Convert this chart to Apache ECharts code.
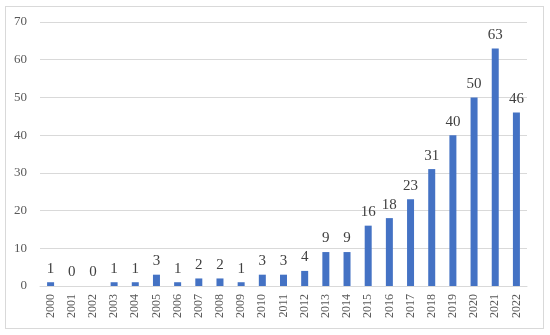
<!DOCTYPE html>
<html>
<head>
<meta charset="utf-8">
<script src="https://cdn.jsdelivr.net/npm/echarts@6/dist/echarts.min.js"></script>
<style>
  html, body { margin: 0; padding: 0; background: #fff; }
  #frame { position: absolute; left: 5px; top: 6px; width: 537px; height: 321px; border: 1px solid #d9d9d9; }
  #chart { position: absolute; left: 0; top: 0; width: 550px; height: 335px; }
</style>
</head>
<body>
<div id="frame"></div>
<div id="chart"></div>
<script>
  var years = ['2000', '2001', '2002', '2003', '2004', '2005', '2006', '2007', '2008', '2009', '2010', '2011',
               '2012', '2013', '2014', '2015', '2016', '2017', '2018', '2019', '2020', '2021', '2022'];
  var counts = [1, 0, 0, 1, 1, 3, 1, 2, 2, 1, 3, 3, 4, 9, 9, 16, 18, 23, 31, 40, 50, 63, 46];

  var serif = '"Liberation Serif", "DejaVu Serif", serif';
  var chart = echarts.init(document.getElementById('chart'));

  var option = {
    animation: false,
    grid: { left: 40, right: 23, top: 22, bottom: 49 },
    xAxis: {
      type: 'category',
      data: years,
      axisTick: { show: false },
      axisLine: { lineStyle: { color: '#d9d9d9' } },
      axisLabel: {
        rotate: 90,
        interval: 0,
        margin: 8,
        color: '#595959',
        fontFamily: serif,
        fontSize: 12
      }
    },
    yAxis: {
      type: 'value',
      min: 0,
      max: 70,
      interval: 10,
      axisLabel: { color: '#595959', fontFamily: serif, fontSize: 13, margin: 13 },
      splitLine: { lineStyle: { color: '#d9d9d9' } }
    },
    series: [{
      type: 'bar',
      data: counts,
      barWidth: 7,
      itemStyle: { color: '#4472c4' },
      label: {
        show: true,
        position: 'top',
        distance: 6,
        color: '#404040',
        fontFamily: serif,
        fontSize: 15
      }
    }]
  };
  chart.setOption(option);
</script>
</body>
</html>
